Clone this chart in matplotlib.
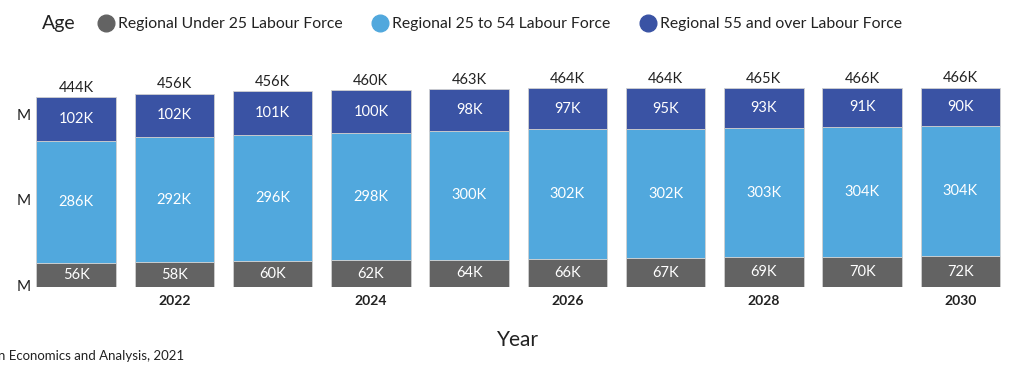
import matplotlib
matplotlib.use("Agg")
import matplotlib.pyplot as plt
from matplotlib.lines import Line2D

years = [2021, 2022, 2023, 2024, 2025, 2026, 2027, 2028, 2029, 2030]
under25 = [56, 58, 60, 62, 64, 66, 67, 69, 70, 72]
mid25_54 = [286, 292, 296, 298, 300, 302, 302, 303, 304, 304]
over55 = [102, 102, 101, 100, 98, 97, 95, 93, 91, 90]
totals = [444, 456, 456, 460, 463, 464, 464, 465, 466, 466]
series_names = ["Regional Under 25 Labour Force", "Regional 25 to 54 Labour Force",
                "Regional 55 and over Labour Force"]
shown_years = [2022, 2024, 2026, 2028, 2030]
ytick_vals = [0, 200, 400]
ytick_labels = ["M", "M", "M"]

colors = ["#636363", "#51A8DD", "#3A53A4"]
plt.rcParams['font.family'] = ['Lato', 'DejaVu Sans']

W, H = 1024, 379
fig = plt.figure(figsize=(W / 100, H / 100), dpi=100)
left_px, right_px = 26.9, 1009.6
bottom_px = 287
ymax = 480
px_per_k = 0.428
top_px = bottom_px - ymax * px_per_k
ax = fig.add_axes([left_px / W, (H - bottom_px) / H, (right_px - left_px) / W, (bottom_px - top_px) / H])

x = list(range(len(years)))
width = 0.81
ax.bar(x, under25, width, color=colors[0], edgecolor="#d0d0d0", linewidth=0.6)
ax.bar(x, mid25_54, width, bottom=under25, color=colors[1], edgecolor="#d0d0d0", linewidth=0.6)
bottoms3 = [a + b for a, b in zip(under25, mid25_54)]
ax.bar(x, over55, width, bottom=bottoms3, color=colors[2], edgecolor="#d0d0d0", linewidth=0.6)

fs_val = 10.5
for i in x:
    ax.text(i, under25[i] / 2, f"{under25[i]}K", ha="center", va="center", color="white", fontsize=fs_val)
    ax.text(i, under25[i] + mid25_54[i] / 2, f"{mid25_54[i]}K", ha="center", va="center", color="white", fontsize=fs_val)
    ax.text(i, bottoms3[i] + over55[i] / 2, f"{over55[i]}K", ha="center", va="center", color="white", fontsize=fs_val)
    top = bottoms3[i] + over55[i]
    ax.text(i, top + 5, f"{totals[i]}K", ha="center", va="bottom", color="#222222", fontsize=fs_val)

ax.set_xlim(-0.5, len(years) - 0.5)
ax.set_ylim(0, ymax)
ax.set_xticks([years.index(y) for y in shown_years])
ax.set_xticklabels([str(y) for y in shown_years], fontsize=10, fontweight="bold", color="#222222")
ax.set_yticks(ytick_vals)
ax.set_yticklabels(ytick_labels, fontsize=11, color="#222222")
ax.tick_params(axis="both", length=0)
ax.tick_params(axis="x", pad=6)
ax.tick_params(axis="y", pad=-3)
for lbl in ax.get_yticklabels():
    lbl.set_va("center")
for s in ax.spines.values():
    s.set_visible(False)
ax.set_xlabel("Year", fontsize=15, color="#222222", labelpad=16)

fig.text(42 / W, 1 - 24 / H, "Age", fontsize=14, color="#222222", va="center", ha="left")
handles = [Line2D([0], [0], marker="o", linestyle="", markersize=12, markerfacecolor=c, markeredgecolor=c)
           for c in colors]
leg = fig.legend(handles, series_names, ncol=3, loc="center left", bbox_to_anchor=(94 / W, 1 - 24 / H),
                 frameon=False, fontsize=11.3, handletextpad=0.05, columnspacing=1.6, handlelength=1.5,
                 borderaxespad=0, borderpad=0)
for t in leg.get_texts():
    t.set_color("#222222")

fig.text(-2 / W, 1 - 356 / H, "n Economics and Analysis, 2021", fontsize=9.5, color="#222222", va="center", ha="left")

fig.savefig("out.png", dpi=100)
